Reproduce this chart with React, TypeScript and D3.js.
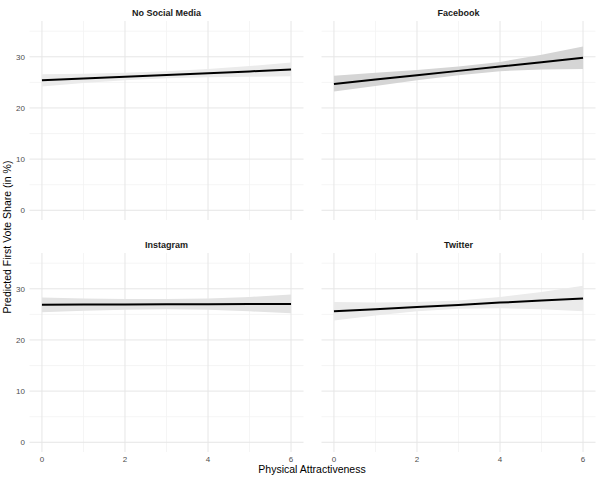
import React from "react";
import * as d3 from "d3";

const facets = ["No Social Media", "Facebook", "Instagram", "Twitter"];
const xValues = [0, 1, 2, 3, 4, 5, 6];
const fitNoSocial = [25.4, 25.75, 26.1, 26.45, 26.8, 27.15, 27.5];
const lowNoSocial = [24.2, 24.9, 25.4, 25.8, 26.0, 26.1, 26.2];
const highNoSocial = [26.6, 26.7, 26.9, 27.2, 27.6, 28.2, 28.9];
const fitFacebook = [24.7, 25.55, 26.4, 27.25, 28.1, 28.95, 29.8];
const lowFacebook = [23.2, 24.3, 25.4, 26.4, 27.2, 27.5, 27.6];
const highFacebook = [26.3, 26.9, 27.4, 28.1, 29.0, 30.4, 32.0];
const fitInstagram = [26.9, 26.93, 26.95, 26.98, 27.0, 27.03, 27.05];
const lowInstagram = [25.4, 25.7, 25.9, 26.0, 25.9, 25.6, 25.2];
const highInstagram = [28.3, 28.1, 28.0, 28.0, 28.1, 28.4, 28.9];
const fitTwitter = [25.6, 26.0, 26.45, 26.85, 27.3, 27.7, 28.1];
const lowTwitter = [23.8, 24.8, 25.6, 26.1, 26.2, 26.0, 25.6];
const highTwitter = [27.4, 27.3, 27.4, 27.7, 28.4, 29.4, 30.6];
const ribbonFills = ["#ebebeb", "#d5d5d5", "#e3e3e3", "#ebebeb"];
const yTicks = [0, 10, 20, 30];
const yMinor = [5, 15, 25, 35];
const xTicks = [0, 2, 4, 6];
const xMinor = [1, 3, 5];
const xTitle = "Physical Attractiveness";
const yTitle = "Predicted First Vote Share (in %)";

const series = [
  { fit: fitNoSocial, low: lowNoSocial, high: highNoSocial },
  { fit: fitFacebook, low: lowFacebook, high: highFacebook },
  { fit: fitInstagram, low: lowInstagram, high: highInstagram },
  { fit: fitTwitter, low: lowTwitter, high: highTwitter },
];

const panelX = [
  [29.5, 303.5],
  [321.5, 595.5],
];
const panelY = [
  [220, 21],
  [452, 253],
];

export default function App() {
  const font = "Liberation Sans, Arial, sans-serif";
  return (
    <svg
      width={600}
      height={480}
      style={{ position: "absolute", left: 0, top: 0, background: "#fff" }}
      fontFamily={font}
    >
      <rect width={600} height={480} fill="#fff" />
      {facets.map((name, i) => {
        const col = i % 2;
        const row = Math.floor(i / 2);
        const x = d3.scaleLinear().domain([-0.3, 6.3]).range(panelX[col]);
        const y = d3.scaleLinear().domain([-1.9, 37.0]).range(panelY[row]);
        const s = series[i];
        const area = d3
          .area<number>()
          .x((_, j) => x(xValues[j]))
          .y0((_, j) => y(s.low[j]))
          .y1((_, j) => y(s.high[j]));
        const line = d3
          .line<number>()
          .x((_, j) => x(xValues[j]))
          .y((v) => y(v));
        const [x0, x1] = panelX[col];
        const [yb, yt] = panelY[row];
        return (
          <g key={name}>
            {yMinor.map((t) => (
              <line key={"ym" + t} x1={x0} x2={x1} y1={y(t)} y2={y(t)} stroke="#f2f2f2" strokeWidth={0.8} />
            ))}
            {xMinor.map((t) => (
              <line key={"xm" + t} x1={x(t)} x2={x(t)} y1={yb} y2={yt} stroke="#f2f2f2" strokeWidth={0.8} />
            ))}
            {yTicks.map((t) => (
              <line key={"y" + t} x1={x0} x2={x1} y1={y(t)} y2={y(t)} stroke="#e6e6e6" strokeWidth={1} />
            ))}
            {xTicks.map((t) => (
              <line key={"x" + t} x1={x(t)} x2={x(t)} y1={yb} y2={yt} stroke="#e6e6e6" strokeWidth={1} />
            ))}
            <path d={area(s.fit) || ""} fill={ribbonFills[i]} />
            <path d={line(s.fit) || ""} fill="none" stroke="#000" strokeWidth={2} />
            <text
              x={(x0 + x1) / 2}
              y={row === 0 ? 16 : 248}
              textAnchor="middle"
              fontSize={9}
              fontWeight="bold"
              fill="#1a1a1a"
            >
              {name}
            </text>
            {col === 0 &&
              yTicks.map((t) => (
                <text key={"yl" + t} x={25} y={y(t)} dy="0.35em" textAnchor="end" fontSize={8} fill="#4d4d4d">
                  {t}
                </text>
              ))}
            {row === 1 &&
              xTicks.map((t) => (
                <text key={"xl" + t} x={x(t)} y={462} textAnchor="middle" fontSize={8} fill="#4d4d4d">
                  {t}
                </text>
              ))}
          </g>
        );
      })}
      <text x={312} y={473} textAnchor="middle" fontSize={10.5} fill="#000">
        {xTitle}
      </text>
      <text
        transform="translate(11,237) rotate(-90)"
        textAnchor="middle"
        fontSize={10.5}
        fill="#000"
      >
        {yTitle}
      </text>
    </svg>
  );
}
